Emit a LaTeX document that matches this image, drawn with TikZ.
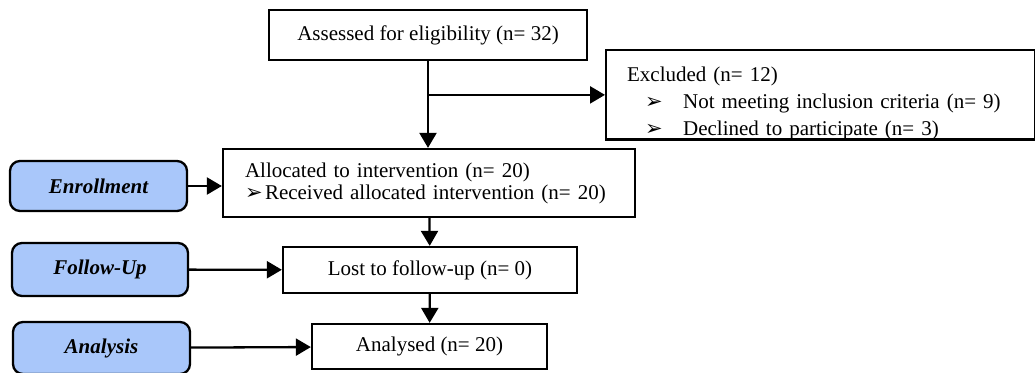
\documentclass[tikz,border=0pt]{standalone}
\usepackage{fontspec}
\setmainfont{Liberation Serif}
\newfontfamily\dingfont{DejaVu Sans}[Scale=1.0]
\usetikzlibrary{positioning}
\usetikzlibrary{calc}
\usetikzlibrary{arrows.meta}
\definecolor{phaseblue}{RGB}{169,199,250}
\newcommand{\pointer}{{\dingfont ➢}}

\begin{document}
\begin{tikzpicture}[x=1pt,y=-1pt,line width=2.3pt
            ,font=\fontsize{21}{27}\selectfont
            ,box/.style={draw,fill=white,inner sep=0pt}
            ,phase/.style={draw,fill=phaseblue,rounded corners=10pt,inner sep=0pt
                           ,font=\fontsize{21}{27}\selectfont\bfseries\itshape}
            ,arr/.style={-{Triangle[length=15pt,width=17pt]}}
            ]
  \useasboundingbox (0,0) rectangle (1035,372);
  % main column
  \node[box,minimum width=318pt,minimum height=50pt] (assess) at (428,35)
    {Assessed for eligibility (n= 32)};
  \node[box,anchor=north west,inner xsep=21pt,text width=387pt,minimum height=89pt,align=left]
    (excl) at (605,49)
    {\rule{0pt}{31pt}Excluded (n= 12)\\
     \hspace*{18pt}\makebox[38pt][l]{\pointer}Not meeting inclusion criteria (n= 9)\\
     \hspace*{18pt}\makebox[38pt][l]{\pointer}Declined to participate (n= 3)};
  \node[box,inner xsep=22pt,text width=368pt,minimum height=68pt,align=left
       ,font=\fontsize{21}{22}\selectfont] (alloc) at (429,183)
    {Allocated to intervention (n= 20)\\
     \makebox[20pt][l]{\pointer}Received allocated intervention (n= 20)};
  \node[box,minimum width=294pt,minimum height=46pt] (lost) at (430,270)
    {Lost to follow-up (n= 0)};
  \node[box,minimum width=235pt,minimum height=45pt] (anal) at (429.5,346.5)
    {Analysed (n= 20)};
  % phases
  \node[phase,minimum width=177pt,minimum height=50pt] (enroll) at (98.5,186) {Enrollment};
  \node[phase,minimum width=176pt,minimum height=53pt] (follow) at (100,269.5) {Follow-Up};
  \node[phase,minimum width=177pt,minimum height=52pt] (analysis) at (101.5,348) {Analysis};

  \coordinate (split) at (assess.south |- excl.west);
  \draw (assess.south) -- (split);
  \path[arr]
    (split) edge (assess.south |- alloc.north)
            edge (excl.west)
    (alloc) edge (lost)
    (lost) edge (anal)
    (follow) edge (lost)
    (analysis) edge (anal)
    ;
  \draw[arr] (enroll.east) -- (enroll.east -| alloc.west);
\end{tikzpicture}
\end{document}
